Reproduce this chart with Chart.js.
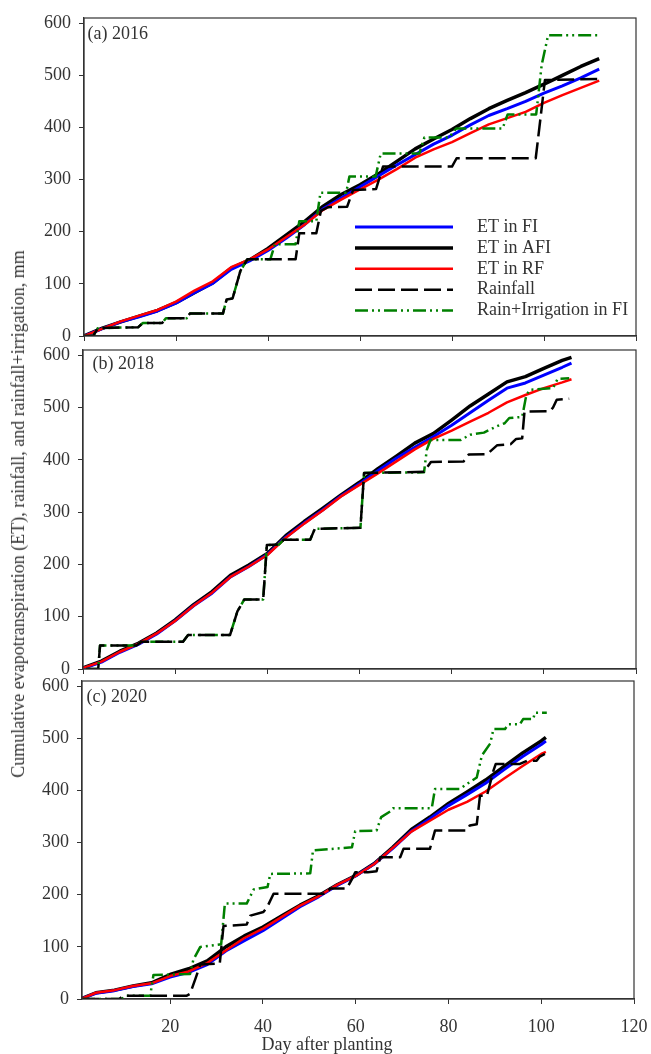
<!DOCTYPE html>
<html>
<head>
<meta charset="utf-8">
<script src="https://cdn.jsdelivr.net/npm/chart.js@4.4.0/dist/chart.umd.min.js"></script>
<style>
    body { margin: 0; background: #fff; width: 651px; height: 1054px; position: relative; overflow: hidden; font-family: "Liberation Serif", serif; color: #333; }
    canvas { position: absolute; left: 0; top: 0; }
    .title { position: absolute; font-size: 18px; line-height: 18px; white-space: nowrap; }
    #ytitle { left: 18px; top: 514px; transform: translate(-50%, -50%) rotate(-90deg); }
    #xtitle { left: 327px; top: 1035px; transform: translateX(-50%); }
</style>
</head>
<body>
<canvas id="chartA" width="651" height="1054"></canvas>
<canvas id="chartB" width="651" height="1054"></canvas>
<canvas id="chartC" width="651" height="1054"></canvas>
<div class="title" id="ytitle">Cumulative evapotranspiration (ET), rainfall, and rainfall+irrigation, mm</div>
<div class="title" id="xtitle">Day after planting</div>

<script>
// Tick labels
const yTicks = [0, 100, 200, 300, 400, 500, 600];
const xTicksTop = [0, 20, 40, 60, 80, 100, 120];
const xTicksBottom = [20, 40, 60, 80, 100, 120];

// (a) 2016
const etDaysA = [0, 4, 8, 12, 16, 20, 24, 28, 32, 36, 40, 44, 48, 52, 56, 60, 64, 68, 72, 76, 80, 84, 88, 92, 96, 100, 104, 108, 112];
const etFiA = [0, 14, 27, 37, 48, 63, 83, 101, 128, 144, 164, 188, 214, 244, 265, 286, 307, 328, 348, 368, 385, 405, 423, 436, 450, 466, 480, 495, 512];
const etAfiA = [0, 15, 27, 38, 49, 64, 83, 102, 130, 146, 168, 194, 220, 249, 272, 290, 311, 335, 359, 378, 396, 417, 436, 452, 467, 483, 500, 517, 532];
const etRfA = [0, 14, 28, 39, 50, 66, 87, 105, 132, 147, 166, 190, 214, 242, 262, 281, 300, 320, 342, 358, 372, 389, 406, 418, 430, 447, 462, 476, 490];
const rainDaysA = [0, 2, 3, 11.8, 12.8, 17, 17.8, 22.3, 23, 30.2, 31, 32.3, 34, 35.5, 46, 46.8, 50.5, 51.5, 53, 57.2, 58.5, 63.5, 65, 80, 81, 98.2, 99, 100.2, 112.2];
const rainA = [0, 0, 15, 17, 25, 25, 34, 34, 43, 43, 70, 72, 125, 147, 147, 197, 197, 240, 247, 248, 280, 282, 325, 325, 341, 341, 400, 491, 493];
const irrDaysA = [0, 2, 3, 11.8, 12.8, 17, 17.8, 22.3, 23, 30.2, 31, 32.3, 34, 35.5, 40.5, 41.5, 46, 46.8, 50.5, 51.4, 57, 57.7, 63.4, 64.5, 72.9, 74, 79.4, 80.9, 91, 92.1, 98.3, 99.5, 100.9, 112.2];
const irrA = [0, 0, 15, 17, 25, 25, 34, 34, 43, 43, 70, 72, 125, 147, 147, 176, 176, 220, 220, 275, 275, 306, 306, 350, 350, 381, 381, 398, 398, 425, 425, 520, 577, 577];

// (b) 2018
const etDaysB = [0, 4, 8, 12, 16, 20, 24, 28, 32, 36, 40, 44, 48, 52, 56, 60, 64, 68, 72, 76, 80, 84, 88, 92, 96, 100, 104, 106];
const etFiB = [1, 13, 32, 47, 67, 92, 121, 145, 176, 196, 219, 252, 279, 304, 331, 354, 379, 403, 424, 444, 466, 490, 514, 537, 547, 562, 577, 585];
const etAfiB = [2, 15, 34, 49, 69, 94, 123, 148, 179, 199, 221, 255, 282, 307, 333, 357, 383, 407, 432, 450, 476, 503, 526, 549, 559, 575, 590, 596];
const etRfB = [2, 14, 33, 48, 68, 92, 121, 146, 176, 196, 218, 251, 278, 303, 330, 352, 374, 397, 420, 440, 456, 473, 490, 510, 524, 537, 548, 554];
const rainDaysB = [0.7, 3.3, 3.7, 11.6, 12.7, 21.7, 22.8, 31.9, 33.5, 35, 39.1, 39.9, 42.5, 43.5, 49.3, 50.3, 60.2, 61, 74, 75.5, 82.6, 83.7, 87.7, 89.9, 92.8, 94, 95.3, 95.8, 101.4, 102, 102.8, 105.5];
const rainB = [0, 0, 45, 45, 52, 52, 65, 65, 110, 133, 133, 237, 238, 247, 247, 268, 270, 375, 377, 396, 397, 410, 411, 428, 430, 440, 441, 492, 493, 500, 515, 517];
const irrDaysB = [0.7, 3.3, 3.7, 11.6, 12.7, 21.7, 22.8, 31.9, 33.5, 35, 39.1, 39.9, 42.5, 43.5, 49.3, 50.3, 60.2, 61, 74, 74.6, 75.4, 82, 84, 87, 90, 91.5, 92.5, 95.3, 96.2, 97, 102, 103, 105.5];
const irrB = [0, 0, 45, 45, 52, 52, 65, 65, 110, 133, 133, 237, 238, 247, 247, 268, 270, 375, 376, 419, 438, 438, 448, 452, 465, 470, 480, 482, 524, 534, 537, 555, 556];

// (c) 2020
const etDaysC = [1, 4, 8, 12, 16, 20, 24, 28, 32, 36, 40, 44, 48, 52, 56, 60, 64, 68, 72, 76, 80, 84, 88, 92, 96, 100, 101];
const etFiC = [1, 11, 16, 24, 29, 42, 51, 66, 92, 112, 131, 154, 177, 196, 218, 236, 259, 289, 322, 346, 371, 392, 414, 440, 465, 488, 495];
const etAfiC = [1, 12, 17, 25, 31, 47, 58, 73, 100, 121, 138, 159, 180, 198, 219, 237, 260, 291, 325, 349, 375, 397, 420, 446, 472, 495, 502];
const etRfC = [1, 12, 17, 25, 30, 44, 53, 69, 93, 117, 135, 157, 179, 197, 219, 236, 259, 290, 321, 342, 363, 378, 398, 423, 447, 470, 474];
const rainDaysC = [1, 9, 10, 23.5, 24.3, 25.5, 26.5, 30.7, 31.5, 36.5, 37.3, 40.1, 40.9, 42.3, 53.8, 54.5, 58.1, 59.2, 59.9, 62.6, 64.5, 65.3, 69.6, 70.3, 76, 77.1, 83.9, 84.6, 86.1, 86.8, 88.3, 89.7, 90.2, 95.4, 96.9, 99, 99.7, 100.8];
const rainC = [0, 0, 6, 6, 10, 40, 66, 68, 140, 143, 160, 167, 176, 202, 202, 212, 212, 230, 243, 243, 245, 272, 272, 288, 288, 323, 323, 333, 335, 390, 390, 438, 451, 451, 457, 457, 465, 470];
const irrDaysC = [1, 9.6, 10.3, 15.7, 16.4, 24.3, 25, 26.5, 31, 31.8, 36.5, 38, 41, 41.6, 50.2, 50.8, 59.2, 59.9, 64.5, 65.5, 67.5, 68.1, 76.4, 77.1, 82.5, 83.9, 86.1, 87.2, 89, 89.7, 92.2, 92.9, 95.4, 96.1, 98.3, 98.6, 101.2];
const irrC = [0, 0, 6, 6, 46, 48, 75, 100, 105, 183, 183, 210, 215, 240, 241, 285, 291, 322, 323, 349, 360, 366, 366, 403, 403, 412, 425, 467, 490, 518, 518, 527, 527, 537, 537, 549, 549];

const FONT = { family: 'Liberation Serif', size: 18 };
const TEXT = '#333';

// pair up x and y arrays
function pts(xs, ys) {
    return xs.map((x, i) => ({ x: x, y: ys[i] }));
}

function makeDatasets(etDays, fi, afi, rf, rainDays, rain, irrDays, irr) {
    const base = { showLine: true, pointRadius: 0, tension: 0, fill: false, borderJoinStyle: 'round' };
    return [
        { ...base, label: 'ET in FI', data: pts(etDays, fi), borderColor: '#0000ff', borderWidth: 3, order: 3 },
        { ...base, label: 'ET in AFI', data: pts(etDays, afi), borderColor: '#000000', borderWidth: 3.5, order: 4 },
        { ...base, label: 'ET in RF', data: pts(etDays, rf), borderColor: '#ff0000', borderWidth: 2.5, order: 2 },
        { ...base, label: 'Rainfall', data: pts(rainDays, rain), borderColor: '#000000', borderWidth: 2.5, borderDash: [17, 6], order: 0 },
        { ...base, label: 'Rain+Irrigation in FI', data: pts(irrDays, irr), borderColor: '#008000', borderWidth: 2.5, borderDash: [13, 4, 2, 4, 2, 4], order: 1 }
    ];
}

// Frame, panel tag and legend
const panelPlugin = {
    id: 'panel',
    afterDraw(chart, args, opts) {
        const ctx = chart.ctx;
        const a = chart.chartArea;
        ctx.save();
        ctx.strokeStyle = TEXT;
        ctx.lineWidth = 1.2;
        ctx.strokeRect(a.left, a.top, a.right - a.left, a.bottom - a.top);

        ctx.fillStyle = TEXT;
        ctx.font = '18px "Liberation Serif"';
        ctx.textBaseline = 'middle';
        ctx.textAlign = 'left';
        ctx.fillText(opts.tag, a.left + opts.tagDx, a.top + opts.tagDy);

        if (opts.legend) {
            const x0 = a.left + 271, x1 = a.left + 369, tx = a.left + 393;
            chart.data.datasets.forEach((ds, i) => {
                const y = a.top + 209 + i * 20.9;
                ctx.strokeStyle = ds.borderColor;
                ctx.lineWidth = ds.borderWidth;
                ctx.setLineDash(ds.borderDash || []);
                ctx.beginPath();
                ctx.moveTo(x0, y);
                ctx.lineTo(x1, y);
                ctx.stroke();
                ctx.setLineDash([]);
                ctx.fillText(ds.label, tx, y);
            });
        }
        ctx.restore();
    }
};

function makePanel(id, area, xMin, xTicks, showXLabels, datasets, tag, legend) {
    const xh = showXLabels ? 45 : 10;
    return new Chart(document.getElementById(id), {
        type: 'scatter',
        data: { datasets: datasets },
        options: {
            responsive: false,
            animation: false,
            devicePixelRatio: 1,
            events: [],
            layout: { padding: { left: 0, top: area.top, right: 651 - area.right, bottom: 1054 - area.bottom - xh } },
            plugins: {
                legend: { display: false },
                tooltip: { enabled: false },
                panel: { tag: tag.text, tagDx: tag.dx, tagDy: tag.dy, legend: legend }
            },
            scales: {
                x: {
                    type: 'linear',
                    min: xMin,
                    max: 120,
                    afterBuildTicks: s => { s.ticks = xTicks.map(v => ({ value: v })); },
                    afterFit: s => { s.height = xh; s.paddingLeft = 0; s.paddingRight = 0; },
                    grid: { drawOnChartArea: false, drawTicks: true, tickLength: 5, tickColor: TEXT },
                    border: { display: true, color: TEXT, width: 1.2 },
                    ticks: { display: showXLabels, font: FONT, color: TEXT, padding: 12, maxRotation: 0 }
                },
                y: {
                    min: 0,
                    max: 610,
                    afterBuildTicks: s => { s.ticks = yTicks.map(v => ({ value: v })); },
                    afterFit: s => { s.width = area.left; s.paddingTop = 0; s.paddingBottom = 0; },
                    grid: { drawOnChartArea: false, drawTicks: true, tickLength: 5, tickColor: TEXT },
                    border: { display: true, color: TEXT, width: 1.2 },
                    ticks: { font: FONT, color: TEXT, padding: 8 }
                }
            }
        },
        plugins: [panelPlugin]
    });
}

makePanel('chartA', { left: 84, top: 18, right: 636, bottom: 336 }, 0, xTicksTop, false,
    makeDatasets(etDaysA, etFiA, etAfiA, etRfA, rainDaysA, rainA, irrDaysA, irrA),
    { text: '(a) 2016', dx: 3.5, dy: 16 }, true);

makePanel('chartB', { left: 83, top: 350, right: 636, bottom: 669 }, 0, xTicksTop, false,
    makeDatasets(etDaysB, etFiB, etAfiB, etRfB, rainDaysB, rainB, irrDaysB, irrB),
    { text: '(b) 2018', dx: 9.5, dy: 14 }, false);

makePanel('chartC', { left: 82, top: 681, right: 634, bottom: 999 }, 1, xTicksBottom, true,
    makeDatasets(etDaysC, etFiC, etAfiC, etRfC, rainDaysC, rainC, irrDaysC, irrC),
    { text: '(c) 2020', dx: 4.5, dy: 16 }, false);
</script>
</body>
</html>
